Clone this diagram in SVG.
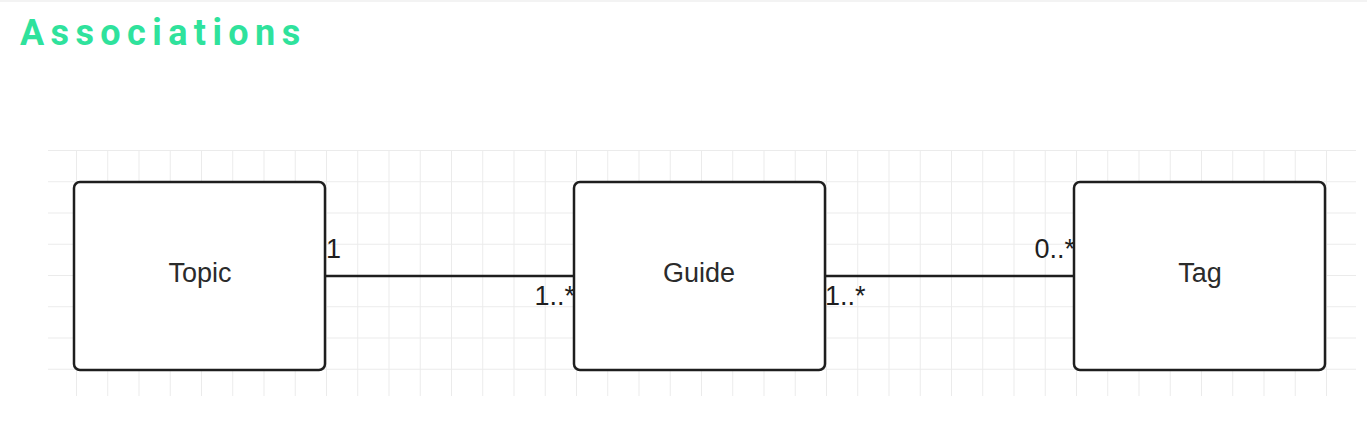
<svg xmlns="http://www.w3.org/2000/svg" width="1367" height="437" viewBox="0 0 1367 437">
  <style>
    .title { font-family: Roboto, "Liberation Sans", sans-serif; font-weight: 700; font-size: 36px; letter-spacing: 6.4px; fill: #2fe29c; }
    .box { fill: #ffffff; stroke: #1e1e1e; stroke-width: 2.5; }
    .label { font-family: "Liberation Sans", Arial, sans-serif; font-size: 27px; fill: #2b2b2b; text-anchor: middle; }
    .mult { font-family: "Liberation Sans", Arial, sans-serif; font-size: 27px; fill: #1e1e1e; }
    .conn { stroke: #1e1e1e; stroke-width: 2.5; fill: none; }
    .grid { stroke: #ebebeb; stroke-width: 1; fill: none; }
  </style>
  <defs>
    <pattern id="gridpat" patternUnits="userSpaceOnUse" x="76" y="150" width="31.25" height="31.25">
      <path class="grid" d="M0.5 0 V31.25 M0 0.5 H31.25"/>
    </pattern>
  </defs>
  <rect width="1367" height="437" fill="#ffffff"/>
  <line x1="0" y1="1" x2="1367" y2="1" stroke="#f3f3f3" stroke-width="2"/>
  <text class="title" x="20" y="45">Associations</text>
  <rect x="48" y="150" width="1308" height="246" fill="url(#gridpat)"/>
  <g id="connectors">
    <line class="conn" x1="325" y1="276" x2="574" y2="276"/>
    <line class="conn" x1="825" y1="276" x2="1074" y2="276"/>
    <text class="mult" x="326" y="258">1</text>
    <text class="mult" x="575" y="305" text-anchor="end">1..*</text>
    <text class="mult" x="825" y="305">1..*</text>
    <text class="mult" x="1075" y="258" text-anchor="end">0..*</text>
  </g>
  <g id="topic">
    <rect class="box" x="74" y="182" width="251" height="188" rx="6"/>
    <text class="label" x="200" y="282">Topic</text>
  </g>
  <g id="guide">
    <rect class="box" x="574" y="182" width="251" height="188" rx="6"/>
    <text class="label" x="699" y="282">Guide</text>
  </g>
  <g id="tag">
    <rect class="box" x="1074" y="182" width="251" height="188" rx="6"/>
    <text class="label" x="1200" y="282">Tag</text>
  </g>
</svg>
